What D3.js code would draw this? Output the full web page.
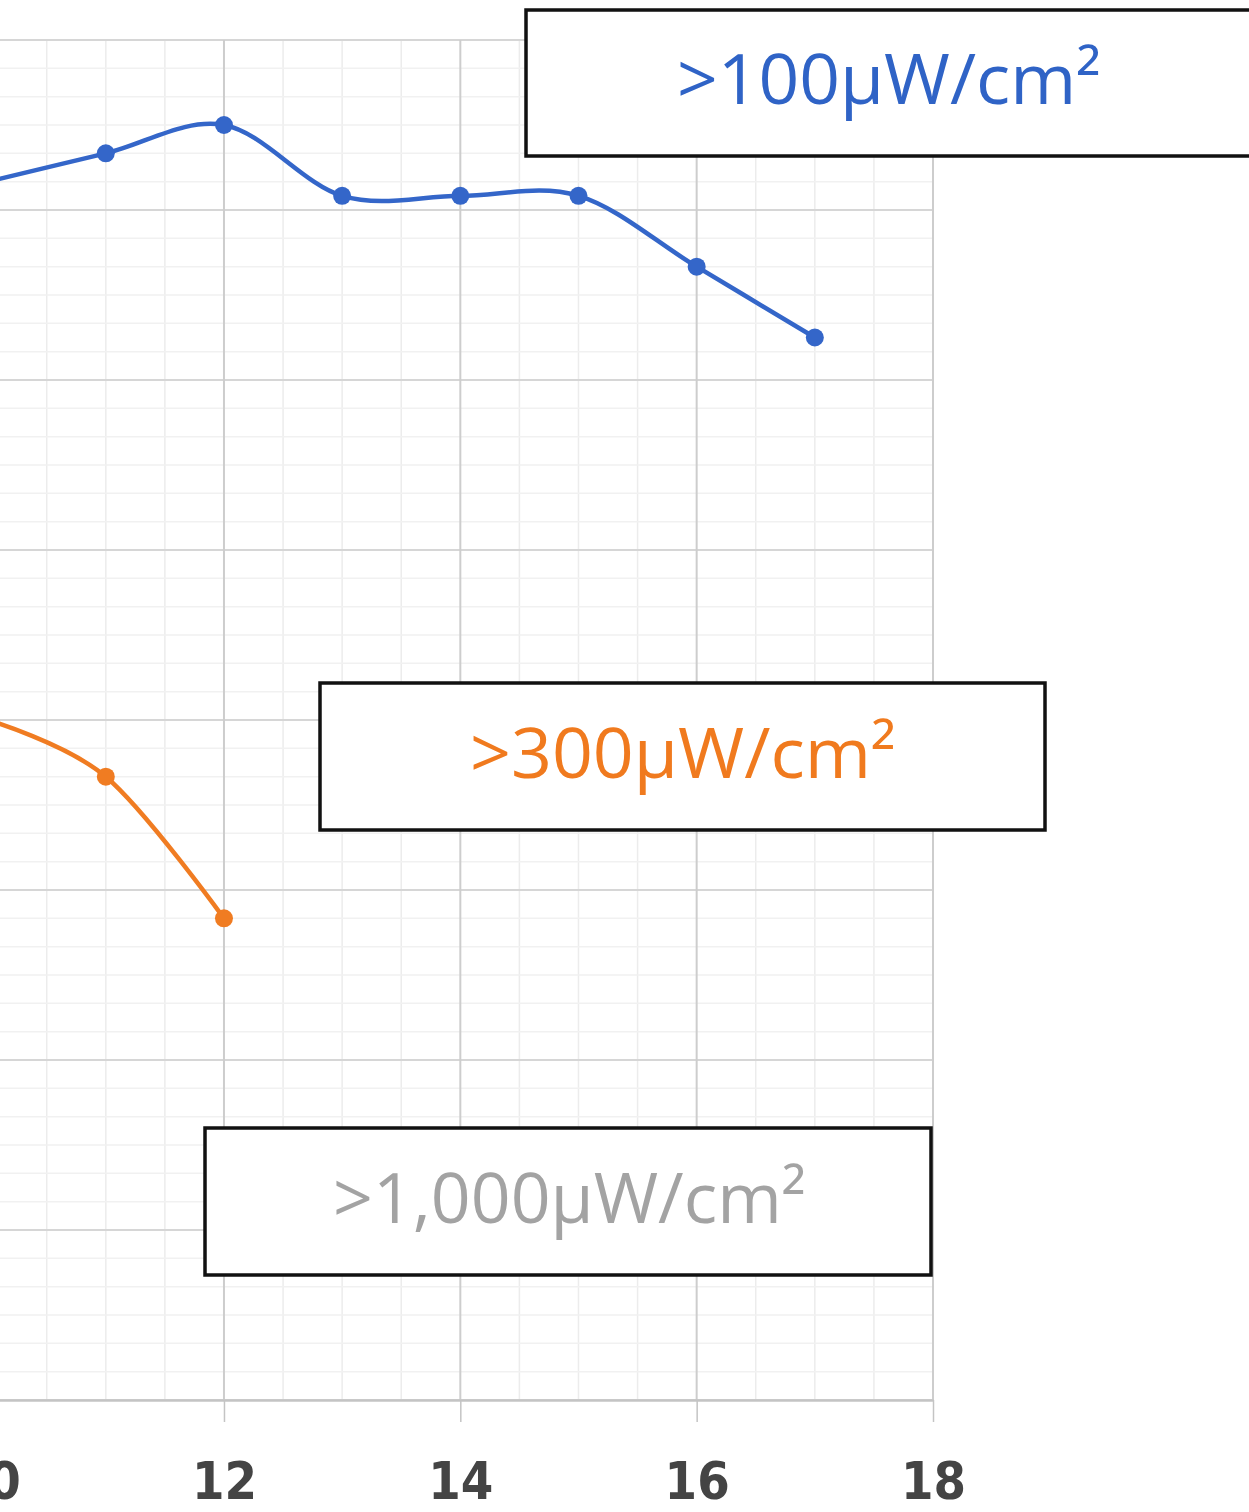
<!DOCTYPE html>
<html>
<head>
<meta charset="utf-8">
<script src="https://cdn.jsdelivr.net/npm/d3@7"></script>
<style>
  html, body { margin: 0; padding: 0; background: #ffffff; }
  svg { display: block; }
</style>
</head>
<body>
<svg id="chart" width="1249" height="1512"></svg>
<script>
// ---------------- data ----------------
const xValues100 = [10, 11, 12, 13, 14, 15, 16, 17];
const yValues100 = [43.0, 44.0, 45.0, 42.5, 42.5, 42.5, 40.0, 37.5];
const xValues300 = [10, 11, 12];
const yValues300 = [24.0, 22.0, 17.0];
const xTickValues = [10, 12, 14, 16, 18];
const xTickLabels = ["10", "12", "14", "16", "18"];
const labelTexts = [">100\u00B5W/cm\u00B2", ">300\u00B5W/cm\u00B2", ">1,000\u00B5W/cm\u00B2"];

// ---------------- layout ----------------
const svg = d3.select("#chart");
const plotLeft = -248.7, plotRight = 933, plotTop = 40, plotBottom = 1400;
const x = d3.scaleLinear().domain([8, 18]).range([plotLeft, plotRight]);
const y = d3.scaleLinear().domain([0, 48]).range([plotBottom, plotTop]);

const colors = { blue: "#3466c9", orange: "#f07c22", gray: "#a3a3a3" };

// gridlines
const grid = svg.append("g");
const minorX = d3.range(8, 18.001, 0.5).filter(v => Math.abs(v % 2) > 1e-9);
const majorX = d3.range(8, 18.001, 2);
const minorY = d3.range(0, 48.001, 1).filter(v => v % 6 !== 0);
const majorY = d3.range(0, 48.001, 6);

grid.selectAll(".mnx").data(minorX).join("line")
  .attr("x1", d => x(d)).attr("x2", d => x(d))
  .attr("y1", plotTop).attr("y2", plotBottom)
  .attr("stroke", "#ececec").attr("stroke-width", 1.5);
grid.selectAll(".mny").data(minorY).join("line")
  .attr("x1", plotLeft).attr("x2", plotRight)
  .attr("y1", d => y(d)).attr("y2", d => y(d))
  .attr("stroke", "#f1f1f1").attr("stroke-width", 1.5);
grid.selectAll(".mjy").data(majorY).join("line")
  .attr("x1", plotLeft).attr("x2", plotRight)
  .attr("y1", d => y(d)).attr("y2", d => y(d))
  .attr("stroke", "#d6d6d6").attr("stroke-width", 2);
grid.selectAll(".mjx").data(majorX).join("line")
  .attr("x1", d => x(d)).attr("x2", d => x(d))
  .attr("y1", plotTop).attr("y2", plotBottom)
  .attr("stroke", "#cdcdcd").attr("stroke-width", 2);

// x axis
const xAxis = d3.axisBottom(x)
  .tickValues(xTickValues)
  .tickFormat((d, i) => xTickLabels[i])
  .tickSize(22)
  .tickSizeOuter(0);
const axisG = svg.append("g").attr("transform", `translate(0,${plotBottom})`).call(xAxis);
axisG.select(".domain").attr("stroke", "#c4c4c4").attr("stroke-width", 2.5);
axisG.selectAll(".tick line").attr("stroke", "#c4c4c4").attr("stroke-width", 1.5);
axisG.selectAll(".tick text")
  .attr("y", 99).attr("dy", null)
  .attr("fill", "#444444")
  .style("font-family", "'Liberation Sans Narrow', 'DejaVu Sans', sans-serif")
  .style("font-stretch", "condensed")
  .style("font-weight", "bold")
  .style("font-size", "52px");

// series
const line = d3.line().x(d => x(d[0])).y(d => y(d[1])).curve(d3.curveCardinal.tension(0));
function drawSeries(xs, ys, color) {
  const pts = xs.map((v, i) => [v, ys[i]]);
  svg.append("path").datum(pts).attr("d", line)
    .attr("fill", "none").attr("stroke", color).attr("stroke-width", 4.5);
  svg.append("g").selectAll("circle").data(pts).join("circle")
    .attr("cx", d => x(d[0])).attr("cy", d => y(d[1])).attr("r", 9)
    .attr("fill", color);
}
drawSeries(xValues100, yValues100, colors.blue);
drawSeries(xValues300, yValues300, colors.orange);

// annotation boxes
const boxes = [
  { x: 526, y: 10, w: 726, h: 146, tx: 677, tw: 424, by: 104, color: "#2f63c6" },
  { x: 320, y: 683, w: 725, h: 147, tx: 470, tw: 426, by: 778, color: "#f07a1e" },
  { x: 205, y: 1128, w: 726, h: 147, tx: 333, tw: 473, by: 1223, color: colors.gray }
];
boxes.forEach((b, i) => {
  svg.append("rect")
    .attr("x", b.x).attr("y", b.y).attr("width", b.w).attr("height", b.h)
    .attr("fill", "#ffffff").attr("stroke", "#111111").attr("stroke-width", 3.5);
  svg.append("text")
    .attr("x", b.tx).attr("y", b.by)
    .attr("textLength", b.tw).attr("lengthAdjust", "spacingAndGlyphs")
    .attr("fill", b.color)
    .style("font-family", "'Open Sans', 'Noto Sans', sans-serif")
    .style("font-size", "70px")
    .text(labelTexts[i]);
});
</script>
</body>
</html>
